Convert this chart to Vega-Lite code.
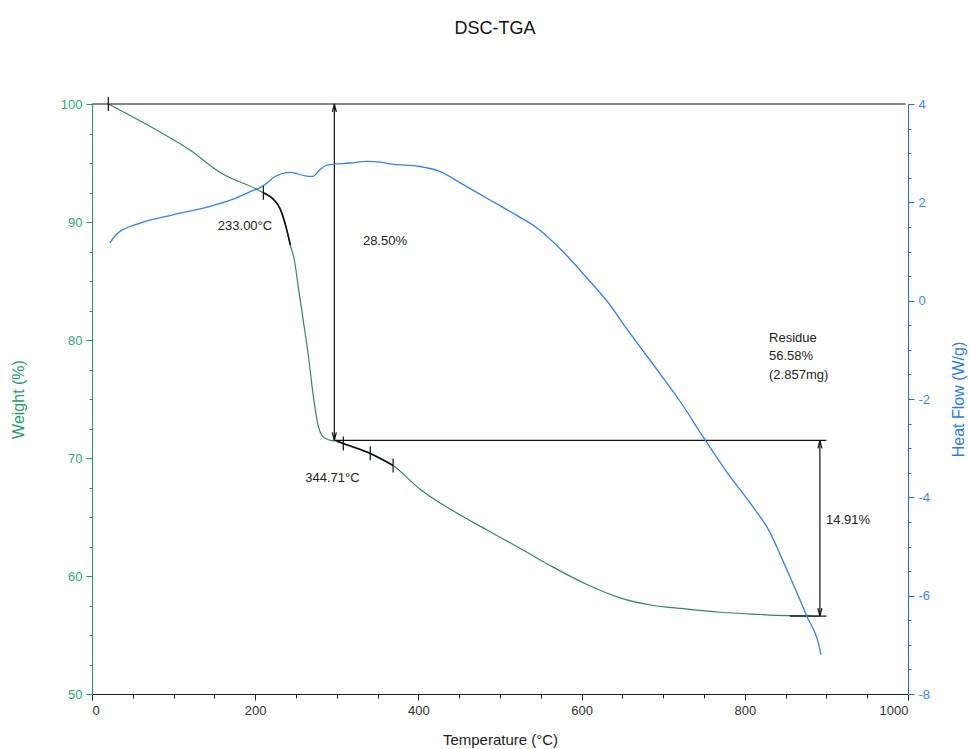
{
  "$schema": "https://vega.github.io/schema/vega-lite/v6.json",
  "width": 816,
  "height": 590,
  "autosize": {"type": "none"},
  "padding": {"left": 92, "top": 104, "right": 61, "bottom": 55},
  "background": "white",
  "config": {"font": "Liberation Sans", "view": {"stroke": null}, "axis": {"grid": false}},
  "title": {"text": "DSC-TGA", "fontSize": 18, "fontWeight": "normal", "color": "#111111", "anchor": "middle", "offset": 59, "dx": -5, "font": "Liberation Sans"},
  "datasets": {
    "tga": [
      {"T": 20, "W": 100}, {"T": 79, "W": 97.8}, {"T": 120, "W": 96.1}, {"T": 157, "W": 94.2},
      {"T": 202, "W": 92.77}, {"T": 210, "W": 92.48}, {"T": 224, "W": 91.8}, {"T": 230, "W": 91.2},
      {"T": 239, "W": 89.25}, {"T": 243, "W": 88.05}, {"T": 248, "W": 86.78}, {"T": 253, "W": 84.4},
      {"T": 259, "W": 81.6}, {"T": 265, "W": 78.75}, {"T": 271, "W": 75.35}, {"T": 277, "W": 72.8},
      {"T": 283, "W": 71.8}, {"T": 292, "W": 71.5}, {"T": 300, "W": 71.43}, {"T": 308, "W": 71.23},
      {"T": 337, "W": 70.5}, {"T": 369, "W": 69.36}, {"T": 402, "W": 67.36}, {"T": 443, "W": 65.5},
      {"T": 484, "W": 63.9}, {"T": 525, "W": 62.33}, {"T": 565, "W": 60.75}, {"T": 606, "W": 59.3},
      {"T": 647, "W": 58.15}, {"T": 688, "W": 57.5}, {"T": 721, "W": 57.25}, {"T": 770, "W": 56.93},
      {"T": 810, "W": 56.77}, {"T": 851, "W": 56.65}, {"T": 876, "W": 56.64}, {"T": 890, "W": 56.6}
    ],
    "dsc": [
      {"T": 22, "HF": 1.175}, {"T": 30, "HF": 1.352}, {"T": 59, "HF": 1.576}, {"T": 99, "HF": 1.747},
      {"T": 141, "HF": 1.903}, {"T": 173, "HF": 2.066}, {"T": 197, "HF": 2.239}, {"T": 206, "HF": 2.299},
      {"T": 218, "HF": 2.439}, {"T": 222, "HF": 2.499}, {"T": 243, "HF": 2.609}, {"T": 263, "HF": 2.534},
      {"T": 271, "HF": 2.53}, {"T": 279, "HF": 2.66}, {"T": 288, "HF": 2.759}, {"T": 316, "HF": 2.8},
      {"T": 337, "HF": 2.833}, {"T": 353, "HF": 2.818}, {"T": 365, "HF": 2.782}, {"T": 402, "HF": 2.729},
      {"T": 426, "HF": 2.629}, {"T": 455, "HF": 2.36}, {"T": 484, "HF": 2.084}, {"T": 520, "HF": 1.739},
      {"T": 545, "HF": 1.485}, {"T": 578, "HF": 0.984}, {"T": 606, "HF": 0.471}, {"T": 631, "HF": -0.007},
      {"T": 659, "HF": -0.657}, {"T": 696, "HF": -1.483}, {"T": 721, "HF": -2.056}, {"T": 745, "HF": -2.671},
      {"T": 753, "HF": -2.874}, {"T": 778, "HF": -3.488}, {"T": 806, "HF": -4.105}, {"T": 831, "HF": -4.717},
      {"T": 843, "HF": -5.15}, {"T": 855, "HF": -5.6}, {"T": 876, "HF": -6.42}, {"T": 892, "HF": -7.1},
      {"T": 893, "HF": -7.2}
    ],
    "segments": [
      {"T": 0, "T2": 997, "W": 100, "W2": 100},
      {"T": 297, "T2": 297, "W": 100, "W2": 71.5},
      {"T": 297, "T2": 900, "W": 71.5, "W2": 71.5},
      {"T": 892, "T2": 892, "W": 71.5, "W2": 56.6},
      {"T": 855, "T2": 900, "W": 56.6, "W2": 56.6}
    ],
    "arrows": [
      {"T": 297, "W": 100, "dir": "up"},
      {"T": 297, "W": 71.5, "dir": "down"},
      {"T": 892, "W": 71.5, "dir": "up"},
      {"T": 892, "W": 56.6, "dir": "down"}
    ],
    "marks": [
      {"T": 20, "W": 100}, {"T": 210, "W": 92.48}, {"T": 308, "W": 71.23}, {"T": 341, "W": 70.4}, {"T": 369, "W": 69.36}
    ],
    "labels": [
      {"T": 187.5, "W": 89.65, "text": "233.00°C"},
      {"T": 359, "W": 88.42, "text": "28.50%"},
      {"T": 294.7, "W": 68.33, "text": "344.71°C"}
    ],
    "leftlabels": [
      {"T": 829.7, "W": 80.2, "text": "Residue"},
      {"T": 829.7, "W": 78.68, "text": "56.58%"},
      {"T": 829.7, "W": 77.07, "text": "(2.857mg)"},
      {"T": 899.5, "W": 64.73, "text": "14.91%"}
    ]
  },
  "encoding": {
    "x": {
      "field": "T", "type": "quantitative",
      "scale": {"domain": [0, 1000], "nice": false, "zero": false},
      "axis": {
        "values": [0, 50, 100, 150, 200, 250, 300, 350, 400, 450, 500, 550, 600, 650, 700, 750, 800, 850, 900, 950, 1000],
        "labelExpr": "datum.value % 200 === 0 ? '' + datum.value : ''",
        "labelOverlap": false,
        "tickSize": {"condition": {"test": "datum.value % 200 === 0", "value": 6}, "value": 4},
        "domainColor": "#222222", "tickColor": "#222222", "labelColor": "#333333",
        "labelFontSize": 13, "labelPadding": 4,
        "title": "Temperature (°C)", "titleFontSize": 15, "titleFontWeight": "normal", "titleColor": "#222222",
        "titleY": 45, "titleBaseline": "middle"
      }
    }
  },
  "layer": [
    {
      "encoding": {
        "y": {
          "field": "W", "type": "quantitative",
          "scale": {"domain": [50, 100], "nice": false, "zero": false},
          "axis": {
            "values": [50, 52.5, 55, 57.5, 60, 62.5, 65, 67.5, 70, 72.5, 75, 77.5, 80, 82.5, 85, 87.5, 90, 92.5, 95, 97.5, 100],
            "labelExpr": "datum.value % 10 === 0 ? '' + datum.value : ''",
            "labelOverlap": false,
            "tickSize": {"condition": {"test": "datum.value % 10 === 0", "value": 6}, "value": 3},
            "domainColor": "#1e9c6c", "tickColor": "#1e9c6c", "labelColor": "#2aa87a",
            "labelFontSize": 13, "labelPadding": 4,
            "title": "Weight (%)", "titleColor": "#1e9c6c", "titleFontSize": 16, "titleFontWeight": "normal",
            "titleX": -74, "titleY": 295, "titleBaseline": "middle", "titleAngle": 270
          }
        }
      },
      "layer": [
        {
          "data": {"name": "tga"},
          "mark": {"type": "line", "color": "#2e8b57", "strokeWidth": 1.2, "interpolate": "monotone"}
        },
        {
          "data": {"name": "tga"},
          "transform": [{"filter": "datum.T >= 210 && datum.T <= 244"}],
          "mark": {"type": "line", "color": "#111111", "strokeWidth": 1.6, "interpolate": "monotone"}
        },
        {
          "data": {"name": "tga"},
          "transform": [{"filter": "datum.T >= 300 && datum.T <= 369"}],
          "mark": {"type": "line", "color": "#111111", "strokeWidth": 1.6, "interpolate": "monotone"}
        },
        {
          "data": {"name": "segments"},
          "mark": {"type": "rule", "color": "#111111", "strokeWidth": 1.2},
          "encoding": {"x2": {"field": "T2"}, "y2": {"field": "W2"}}
        },
        {
          "data": {"name": "arrows"},
          "mark": {"type": "point", "filled": false, "stroke": "#111111", "strokeWidth": 1.2, "size": 64, "opacity": 1},
          "encoding": {
            "shape": {"field": "dir", "type": "nominal", "scale": {"domain": ["up", "down"], "range": ["M-0.5,2L0,0L0.5,2", "M-0.5,-2L0,0L0.5,-2"]}, "legend": null}
          }
        },
        {
          "data": {"name": "marks"},
          "mark": {"type": "tick", "orient": "vertical", "color": "#111111", "size": 14, "thickness": 1.2, "opacity": 1}
        },
        {
          "data": {"name": "labels"},
          "mark": {"type": "text", "fontSize": 13, "color": "#222222", "align": "center", "baseline": "middle"},
          "encoding": {"text": {"field": "text"}}
        },
        {
          "data": {"name": "leftlabels"},
          "mark": {"type": "text", "fontSize": 13, "color": "#222222", "align": "left", "baseline": "middle"},
          "encoding": {"text": {"field": "text"}}
        }
      ]
    },
    {
      "data": {"name": "dsc"},
      "mark": {"type": "line", "color": "#3380f0", "strokeWidth": 1.3, "interpolate": "monotone"},
      "encoding": {
        "y": {
          "field": "HF", "type": "quantitative",
          "scale": {"domain": [-8, 4], "nice": false, "zero": false},
          "axis": {
            "orient": "right",
            "values": [-8, -7.5, -7, -6.5, -6, -5.5, -5, -4.5, -4, -3.5, -3, -2.5, -2, -1.5, -1, -0.5, 0, 0.5, 1, 1.5, 2, 2.5, 3, 3.5, 4],
            "labelExpr": "datum.value % 2 === 0 ? '' + datum.value : ''",
            "labelOverlap": false,
            "tickSize": {"condition": {"test": "datum.value % 2 === 0", "value": 6}, "value": 3},
            "domainColor": "#1f6bff", "tickColor": "#1f6bff", "labelColor": "#3d86f5",
            "labelFontSize": 13, "labelPadding": 4,
            "title": "Heat Flow (W/g)", "titleColor": "#2a7af5", "titleFontSize": 16, "titleFontWeight": "normal",
            "titleX": 50, "titleY": 295, "titleBaseline": "middle", "titleAngle": 270
          }
        }
      }
    }
  ],
  "resolve": {"scale": {"y": "independent"}}
}
